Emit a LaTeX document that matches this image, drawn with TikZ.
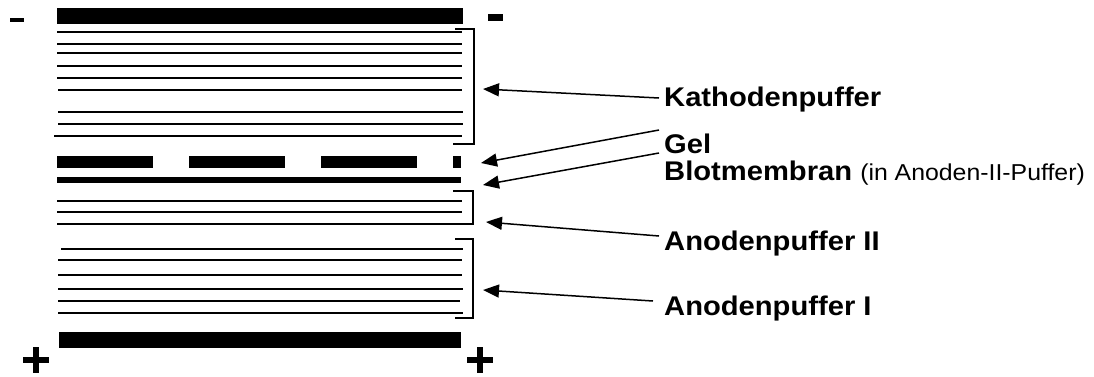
\documentclass[tikz,border=0pt]{standalone}
\usepackage{fontspec}
\setmainfont{Liberation Sans}
\usetikzlibrary{arrows.meta}
\newcommand{\widetext}[1]{\scalebox{1.08}[1]{#1}}
\begin{document}
\begin{tikzpicture}[x=1pt,y=-1pt,
  sheet/.style={line width=1.8pt},
  brace/.style={line width=1.5pt},
  pointer/.style={line width=1.5pt,-{Triangle[length=16pt,width=13pt]}},
  lbl/.style={anchor=base west,inner sep=0pt,font=\fontsize{27}{32}\selectfont\bfseries},
]
\useasboundingbox (0,0) rectangle (1094,376);

% electrode plates
\fill (57,8) rectangle (463,24);
\fill (59,332) rectangle (461,348);
% polarity signs
\fill (10,18) rectangle (24,22);
\fill (488,14) rectangle (503,21);
\fill (23,357) rectangle (49,363); \fill (33,347) rectangle (39,373);
\fill (467,357) rectangle (493,363); \fill (477,347) rectangle (483,373);

% cathode buffer papers
\foreach \y/\a/\b in {32/57/462,44/57/462,53/57/462,66/57/462,78/57/462,90/58/462,112/58/463,124/58/463,136/54/462}
  \draw[sheet] (\a,\y) -- (\b,\y);
\draw[brace] (455,29) -| (474,144) -- (453,144);

% gel
\foreach \a/\b in {57/153,189/285,321/417,453/461}
  \fill (\a,156) rectangle (\b,168);
% blotting membrane
\fill (57,177) rectangle (461,183);

% anode buffer II papers
\foreach \y in {201,212,224}
  \draw[sheet] (57,\y) -- (462,\y);
\draw[brace] (453,191) -| (473,224) -- (453,224);

% anode buffer I papers
\foreach \y/\a/\b in {249/61/463,260/58/462,275/58/462,289/58/463,301/58/460,313/58/463}
  \draw[sheet] (\a,\y) -- (\b,\y);
\draw[brace] (455,239) -| (473,318) -- (455,318);

% labels
\node[lbl] (kath) at (664,106.5) {\widetext{Kathodenpuffer}};
\node[lbl] (gel) at (664,153) {\widetext{Gel}};
\node[lbl] (blot) at (664,180) {\widetext{Blotmembran {\fontsize{23}{28}\selectfont\mdseries (in Anoden-II-Puffer)}}};
\node[lbl] (an2) at (664,250.5) {\widetext{Anodenpuffer II}};
\node[lbl] (an1) at (664,315.5) {\widetext{Anodenpuffer I}};

% pointer ends
\coordinate (kathT) at (659,98);   \coordinate (kathH) at (483,89);
\coordinate (gelT)  at (659,130);  \coordinate (gelH)  at (481,163);
\coordinate (blotT) at (659,153);  \coordinate (blotH) at (483,185);
\coordinate (an2T)  at (659,236);  \coordinate (an2H)  at (486,222);
\coordinate (an1T)  at (653,301);  \coordinate (an1H)  at (483,290);

\draw[pointer] (kathT) -- (kathH);
\draw[pointer] (gelT) -- (gelH);
\draw[pointer] (blotT) -- (blotH);
\draw[pointer] (an2T) -- (an2H);
\draw[pointer] (an1T) -- (an1H);
\end{tikzpicture}
\end{document}
